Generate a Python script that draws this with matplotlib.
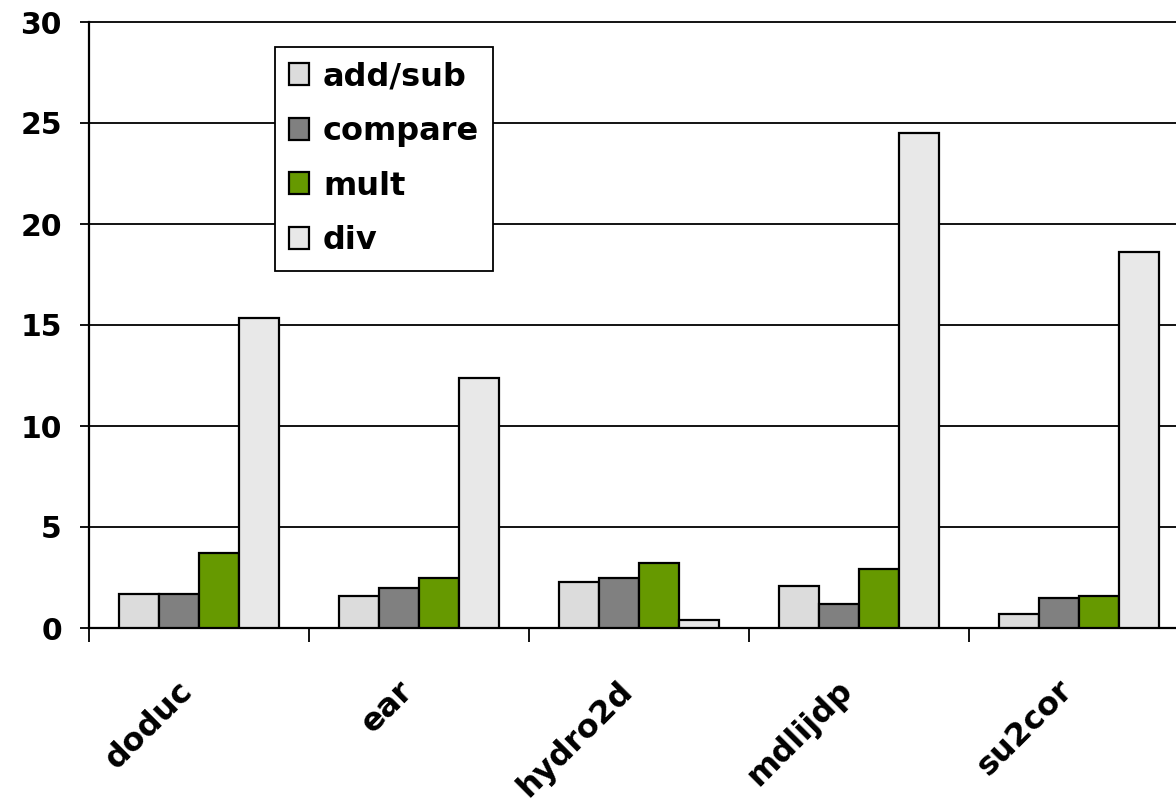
import matplotlib
matplotlib.use("Agg")
import matplotlib.pyplot as plt
import matplotlib.transforms as mtransforms
import numpy as np

plt.rcParams['font.family'] = ['DejaVu Sans']
plt.rcParams['font.weight'] = 'bold'

categories = ["doduc", "ear", "hydro2d", "mdlijdp", "su2cor"]
series_names = ["add/sub", "compare", "mult", "div"]
add_sub = [1.7, 1.6, 2.3, 2.1, 0.7]
compare = [1.7, 2.0, 2.5, 1.2, 1.5]
mult = [3.7, 2.5, 3.2, 2.9, 1.6]
div = [15.35, 12.4, 0.4, 24.5, 18.6]
colors = ["#DCDCDC", "#808080", "#669900", "#E8E8E8"]
yticks = [0, 5, 10, 15, 20, 25, 30]

W, H = 1176, 806
fig = plt.figure(figsize=(W / 100, H / 100), dpi=100)
ax = fig.add_axes([89 / W, (H - 628) / H, 1100 / W, (628 - 22) / H])

x = np.arange(len(categories))
bw = 0.182
for i, (vals, name, c) in enumerate(zip([add_sub, compare, mult, div], series_names, colors)):
    ax.bar(x + (i - 1.5) * bw, vals, bw, color=c, edgecolor="black", linewidth=1.6,
           label=name, zorder=3)

ax.set_xlim(-0.5, len(categories) - 0.5)
ax.set_ylim(0, 30)
ax.set_yticks(yticks)
ax.set_yticklabels([str(v) for v in yticks], fontsize=21.5, fontweight='bold')
for v in yticks[1:]:
    ax.axhline(v, color="black", linewidth=1.3, zorder=1, clip_on=False)

ax.set_xticks(np.arange(len(categories) + 1) - 0.5)
ax.set_xticklabels([])
ax.tick_params(axis='x', which='major', length=10, width=1.3, direction='out')
ax.tick_params(axis='y', length=6.5, width=1.3, direction='out', pad=13)

# category labels, rotated 45 degrees below the axis
offset = mtransforms.ScaledTranslation(-11 / 100, -58 / 100, fig.dpi_scale_trans)
for xi, name in zip(x, categories):
    ax.text(xi, 0, name, transform=ax.get_xaxis_transform() + offset,
            rotation=45, ha="right", va="center", rotation_mode="anchor",
            fontsize=23, fontweight='bold', clip_on=False)

for s in ["top", "right"]:
    ax.spines[s].set_visible(False)
ax.spines["left"].set_linewidth(1.6)
ax.spines["bottom"].set_linewidth(1.6)

leg = fig.legend(*ax.get_legend_handles_labels(), loc="upper left",
                 bbox_to_anchor=(275 / W, (H - 47) / H), borderaxespad=0,
                 frameon=True, fancybox=False, edgecolor="black",
                 handlelength=0.6, handleheight=0.68, handletextpad=0.45,
                 labelspacing=0.74, borderpad=0.45,
                 prop={'weight': 'bold', 'size': 23})
leg.get_frame().set_linewidth(1.3)
leg.get_frame().set_alpha(None)
leg.get_frame().set_facecolor("white")
leg.set_zorder(5)

fig.savefig("out.png", dpi=100)
